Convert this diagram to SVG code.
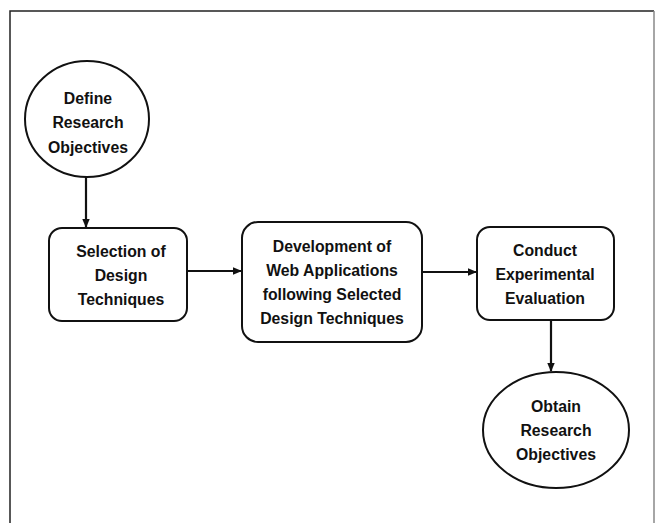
<svg xmlns="http://www.w3.org/2000/svg" width="657" height="523" viewBox="0 0 657 523">
<style>
.shape{fill:#fff;stroke:#111;stroke-width:2}
.lbl{font-family:"Liberation Sans",Arial,sans-serif;font-weight:bold;font-size:15.8px;fill:#111;text-anchor:middle}
.conn{stroke:#111;stroke-width:2.2;fill:none}
</style>
<defs>
<marker id="arr" markerWidth="9" markerHeight="9" refX="8" refY="4.5" orient="auto" markerUnits="userSpaceOnUse">
<path d="M0,0.8 L9,4.5 L0,8.2 Z" fill="#111"/>
</marker>
</defs>
<rect x="0" y="0" width="657" height="523" fill="#fff"/>
<path d="M10,523 V11 H654" fill="none" stroke="#222" stroke-width="1.5"/>
<path d="M654,11 V523" fill="none" stroke="#888" stroke-width="1.5"/>
<g id="connectors">
<path class="conn" d="M86,177 V227" marker-end="url(#arr)"/>
<path class="conn" d="M187,271 H241" marker-end="url(#arr)"/>
<path class="conn" d="M422,272 H476" marker-end="url(#arr)"/>
<path class="conn" d="M551,320 V371" marker-end="url(#arr)"/>
</g>
<g id="define">
<ellipse class="shape" cx="87" cy="119" rx="62" ry="58"/>
<text class="lbl" x="88" y="104">Define</text>
<text class="lbl" x="88" y="128">Research</text>
<text class="lbl" x="88" y="153">Objectives</text>
</g>
<g id="selection">
<rect class="shape" x="49" y="228" width="138" height="93" rx="13"/>
<text class="lbl" x="121" y="257">Selection of</text>
<text class="lbl" x="121" y="281">Design</text>
<text class="lbl" x="121" y="305">Techniques</text>
</g>
<g id="development">
<rect class="shape" x="242" y="222" width="180" height="120" rx="16"/>
<text class="lbl" x="332" y="252">Development of</text>
<text class="lbl" x="332" y="276">Web Applications</text>
<text class="lbl" x="332" y="300">following Selected</text>
<text class="lbl" x="332" y="324">Design Techniques</text>
</g>
<g id="conduct">
<rect class="shape" x="477" y="227" width="137" height="93" rx="13"/>
<text class="lbl" x="545" y="256">Conduct</text>
<text class="lbl" x="545" y="280">Experimental</text>
<text class="lbl" x="545" y="304">Evaluation</text>
</g>
<g id="obtain">
<ellipse class="shape" cx="556" cy="430" rx="73" ry="58"/>
<text class="lbl" x="556" y="412">Obtain</text>
<text class="lbl" x="556" y="436">Research</text>
<text class="lbl" x="556" y="460">Objectives</text>
</g>
</svg>
